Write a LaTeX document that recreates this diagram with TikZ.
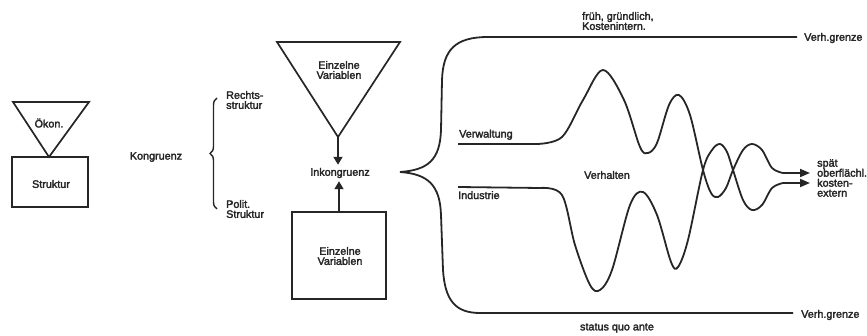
\documentclass[tikz,border=0pt]{standalone}
\usepackage{fontspec}
\setmainfont{Liberation Sans}
\newfontfamily\diagfont[FakeBold=2.5]{Liberation Sans}
\usetikzlibrary{arrows.meta,decorations.pathreplacing}
\begin{document}
\begin{tikzpicture}[x=1pt,y=-1pt,
  every node/.style={font=\diagfont\fontsize{10.8}{12}\selectfont, text=black!85},
  lbl/.style={align=left, inner sep=0pt},
  ctr/.style={align=center, inner sep=0pt},
  shp/.style={line width=1.7pt, draw=black!85},
  boxnode/.style={shp, rectangle, inner sep=0pt},
  ln/.style={line width=1.8pt, draw=black!85, line join=round},
  arr/.style={ln, -{Triangle[length=8pt,width=9pt]}},
  warr/.style={ln, -{Triangle[length=10pt,width=8pt]}}
]
\useasboundingbox (0,0) rectangle (867,336);

% left: Oekon. / Struktur
\draw[shp] (13,102) -- (89,102) -- (49,157) coordinate (t1apex) -- cycle;
\node[ctr] (oekon) at (49,123) {Ökon.};
\node[boxnode, minimum width=76pt, minimum height=50pt] (box1) at (50,182) {};
\node[ctr] (struktur) at (51,184) {Struktur};

% Kongruenz and brace
\node[ctr] (kongruenz) at (156,157) {Kongruenz};
\coordinate (brB) at (217,209);
\coordinate (brT) at (217,98);
\draw[line width=1.4pt, draw=black!85, decorate, decoration={brace, amplitude=7pt}] (brB) -- (brT);
\node[lbl, anchor=west] (rechts) at (226,100) {Rechts-\\[-2pt]struktur};
\node[lbl, anchor=west] (polit) at (226,209) {Polit.\\[-2pt]Struktur};

% middle: triangle, Inkongruenz, box
\draw[shp] (277,42) -- (400,42) -- (338,137) coordinate (t2apex) -- cycle;
\node[ctr] (einz1) at (339,70) {Einzelne\\[-2pt]Variablen};
\node[ctr, inner sep=3pt] (inko) at (340,173) {Inkongruenz};
\node[boxnode, minimum width=94pt, minimum height=87pt] (box2) at (339,255.5) {};
\node[ctr] (einz2) at (340,256) {Einzelne\\[-2pt]Variablen};
\draw[arr] (t2apex) -- (inko.north -| t2apex);
\draw[arr] (box2.north) -- (inko.south -| box2.north);

% big brace
\coordinate (tip) at (400,172);
\coordinate (topEnd) at (797,37);
\coordinate (botEnd) at (793,313);
\draw[ln] (tip) .. controls (428,170) and (440,160) .. (441,130) -- (442,80)
  .. controls (443,50) and (455,37) .. (488,37) -- (topEnd);
\draw[ln] (tip) .. controls (428,174) and (440,185) .. (441,215) -- (443,270)
  .. controls (445,300) and (455,313) .. (480,313) -- (botEnd);
\node[lbl, anchor=west] (vg1) at (804,38) {Verh.grenze};
\node[lbl, anchor=west] (vg2) at (801,315) {Verh.grenze};
\node[lbl, anchor=west] (frueh) at (582,21) {früh, gründlich,\\[-2pt]Kostenintern.};
\node[ctr] (sqa) at (617,328) {status quo ante};

% Verwaltung / Industrie
\coordinate (vw1) at (458,144);
\coordinate (vw2) at (537,144);
\coordinate (in1) at (458,187);
\coordinate (in2) at (540,188);
\coordinate (tipA) at (810,173);
\coordinate (tipB) at (810,183);
\node[lbl, anchor=south west] (verw) at (459,140) {Verwaltung};
\node[lbl, anchor=north west] (indu) at (458,191) {Industrie};
\node[ctr] (verh) at (607,175) {Verhalten};

\draw[warr] (vw1) -- plot[smooth, tension=0.55] coordinates {(vw2) (562,137) (583,100) (603,70) (624,100) (640,147) (648,153) (657,143) (669,105) (679,95) (690,115) (703,170) (711,193) (718,197) (726,188) (733,170) (743,150) (752,144) (762,150) (772,168) (783,173)} -- (tipA);
\draw[warr] (in1) -- plot[smooth, tension=0.55] coordinates {(in2) (562,195) (575,245) (590,285) (600,290) (612,270) (630,205) (643,192) (657,215) (671,262) (678,267) (688,240) (703,170) (712,150) (720,144) (727,152) (733,170) (743,200) (752,210) (762,205) (772,188) (783,183)} -- (tipB);

\node[lbl, anchor=west] (spaet) at (817,178) {spät\\[-2pt]oberflächl.\\[-2pt]kosten-\\[-2pt]extern};
\end{tikzpicture}
\end{document}
